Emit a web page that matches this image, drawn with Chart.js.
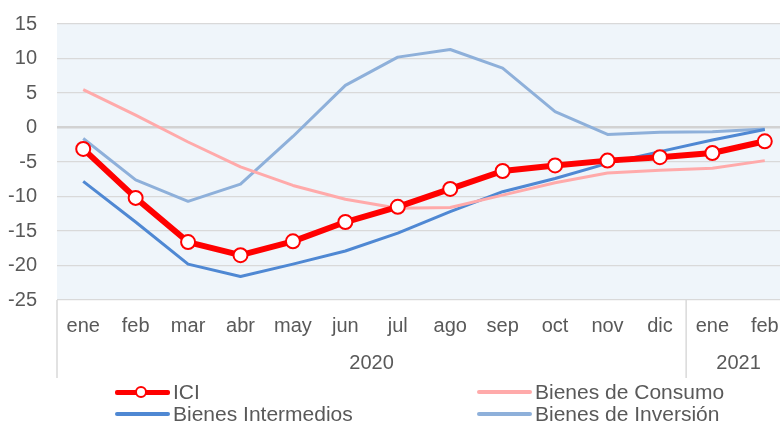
<!DOCTYPE html>
<html><head><meta charset="utf-8">
<script src="https://cdn.jsdelivr.net/npm/chart.js@4/dist/chart.umd.min.js"></script>
<style>
html,body{margin:0;padding:0;background:#fff;overflow:hidden;width:780px;height:423px;}
#wrap{position:absolute;left:0;top:0;width:800px;height:423px;}
#c{position:absolute;left:0;top:0;}
.lgt{position:absolute;font-family:"Liberation Sans",Arial,sans-serif;font-size:21px;color:#595959;line-height:24px;white-space:nowrap;}
.lgl{position:absolute;border-radius:2px;}
.lgc{position:absolute;width:8px;height:8px;border:2px solid #FF0000;border-radius:50%;background:#fff;}
</style></head>
<body>
<div id="wrap"><canvas id="c" width="800" height="423"></canvas><div id="legend"></div></div>
<script>
const months = ['ene','feb','mar','abr','may','jun','jul','ago','sep','oct','nov','dic','ene','feb'];
const years = ['2020','2021'];
const monthsPerYear = [12, 2];
const yTicks = [15, 10, 5, 0, -5, -10, -15, -20, -25];
const seriesNames = ['ICI', 'Bienes de Consumo', 'Bienes Intermedios', 'Bienes de Inversión'];
const ici = [-3.1, -10.2, -16.6, -18.5, -16.5, -13.7, -11.5, -8.9, -6.3, -5.5, -4.8, -4.3, -3.7, -2.0];
const consumo = [5.5, 1.8, -2.1, -5.7, -8.4, -10.4, -11.7, -11.6, -9.8, -8.0, -6.6, -6.2, -5.9, -4.8];
const intermedios = [-7.8, -13.7, -19.8, -21.6, -19.8, -17.9, -15.3, -12.2, -9.3, -7.4, -5.2, -3.5, -1.8, -0.3];
const inversion = [-1.6, -7.6, -10.7, -8.2, -1.3, 6.1, 10.2, 11.3, 8.6, 2.3, -1.0, -0.7, -0.6, -0.2];

const colors = ['#FF0000', '#FFAAAA', '#4F88D3', '#8EB0DA'];
const FONT = '"Liberation Sans", Arial, sans-serif';
Chart.defaults.font.family = FONT;
Chart.defaults.color = '#595959';

const bgPlugin = {
  id: 'bg',
  beforeDraw(chart) {
    const a = chart.chartArea, ctx = chart.ctx;
    ctx.save();
    ctx.fillStyle = '#EFF5FA';
    ctx.fillRect(a.left, a.top, a.right - a.left, a.bottom - a.top);
    ctx.restore();
  }
};

const yearPlugin = {
  id: 'years',
  afterDraw(chart) {
    const x = chart.scales.x, ctx = chart.ctx;
    const w = (x.right - x.left) / months.length;
    ctx.save();
    ctx.strokeStyle = '#D9D9D9';
    ctx.lineWidth = 1.5;
    ctx.font = '20px ' + FONT;
    ctx.fillStyle = '#595959';
    ctx.textAlign = 'center';
    ctx.textBaseline = 'middle';
    const div = px => { ctx.beginPath(); ctx.moveTo(px, x.top); ctx.lineTo(px, x.top + 78); ctx.stroke(); };
    div(x.left);
    let start = 0;
    years.forEach((yr, i) => {
      const end = start + monthsPerYear[i];
      const l = x.getPixelForValue(start) - w / 2;
      const r = x.getPixelForValue(end - 1) + w / 2;
      div(r);
      ctx.fillText(yr, (l + r) / 2, x.top + 63);
      start = end;
    });
    ctx.restore();
  }
};

const seriesData = [ici, consumo, intermedios, inversion];
const widths = [6, 3, 3, 3];
const datasets = seriesData.map((d, i) => ({
  label: seriesNames[i],
  data: d,
  borderColor: colors[i],
  backgroundColor: colors[i],
  borderWidth: widths[i],
  tension: 0,
  order: i,
  pointRadius: i === 0 ? 7 : 0,
  pointBorderWidth: 2,
  pointBackgroundColor: '#FFFFFF',
  pointBorderColor: colors[i],
  pointHoverRadius: i === 0 ? 7 : 0,
  borderCapStyle: 'butt',
  borderJoinStyle: 'round'
}));

new Chart(document.getElementById('c'), {
  type: 'line',
  data: { labels: months, datasets },
  plugins: [bgPlugin, yearPlugin],
  options: {
    responsive: false,
    animation: false,
    devicePixelRatio: 1,
    layout: { padding: { top: 24, bottom: 45, left: 0, right: 5 } },
    plugins: { legend: { display: false }, tooltip: { enabled: false } },
    scales: {
      x: {
        offset: true,
        grid: { display: false, drawTicks: false },
        border: { display: false },
        ticks: { font: { size: 20 }, color: '#595959', padding: 14, maxRotation: 0, autoSkip: false },
        afterFit(s) { s.height = 78; s.paddingLeft = 0; s.paddingRight = 0; }
      },
      y: {
        min: -25, max: 15,
        afterBuildTicks(s) { s.ticks = yTicks.map(v => ({ value: v })); },
        grid: {
          drawTicks: false,
          color: c => c.tick && c.tick.value === 0 ? '#D2D2D2' : '#D9D9D9',
          lineWidth: c => c.tick && c.tick.value === 0 ? 2.5 : 1.2
        },
        border: { display: false },
        ticks: { font: { size: 20 }, color: '#595959', padding: 20 },
        afterFit(s) { s.width = 57; s.paddingTop = 0; s.paddingBottom = 0; }
      }
    }
  }
});

// HTML legend built from the series names/colours
const lg = document.getElementById('legend');
const cols = [[115, 173], [477, 535]];
const rows = [392, 414];
const pos = [[0, 0], [1, 0], [0, 1], [1, 1]];
seriesNames.forEach((name, i) => {
  const [cx, tx] = cols[pos[i][0]];
  const cy = rows[pos[i][1]];
  const h = i === 0 ? 5 : 3.5;
  const line = document.createElement('div');
  line.className = 'lgl';
  line.style.cssText = `left:${cx}px;top:${cy - h / 2}px;width:55px;height:${h}px;background:${colors[i]};`;
  lg.appendChild(line);
  if (i === 0) {
    const c = document.createElement('div');
    c.className = 'lgc';
    c.style.left = (cx + 26 - 6) + 'px';
    c.style.top = (cy - 6) + 'px';
    lg.appendChild(c);
  }
  const t = document.createElement('div');
  t.className = 'lgt';
  t.textContent = name;
  t.style.left = tx + 'px';
  t.style.top = (cy - 12) + 'px';
  lg.appendChild(t);
});
</script>
</body></html>
